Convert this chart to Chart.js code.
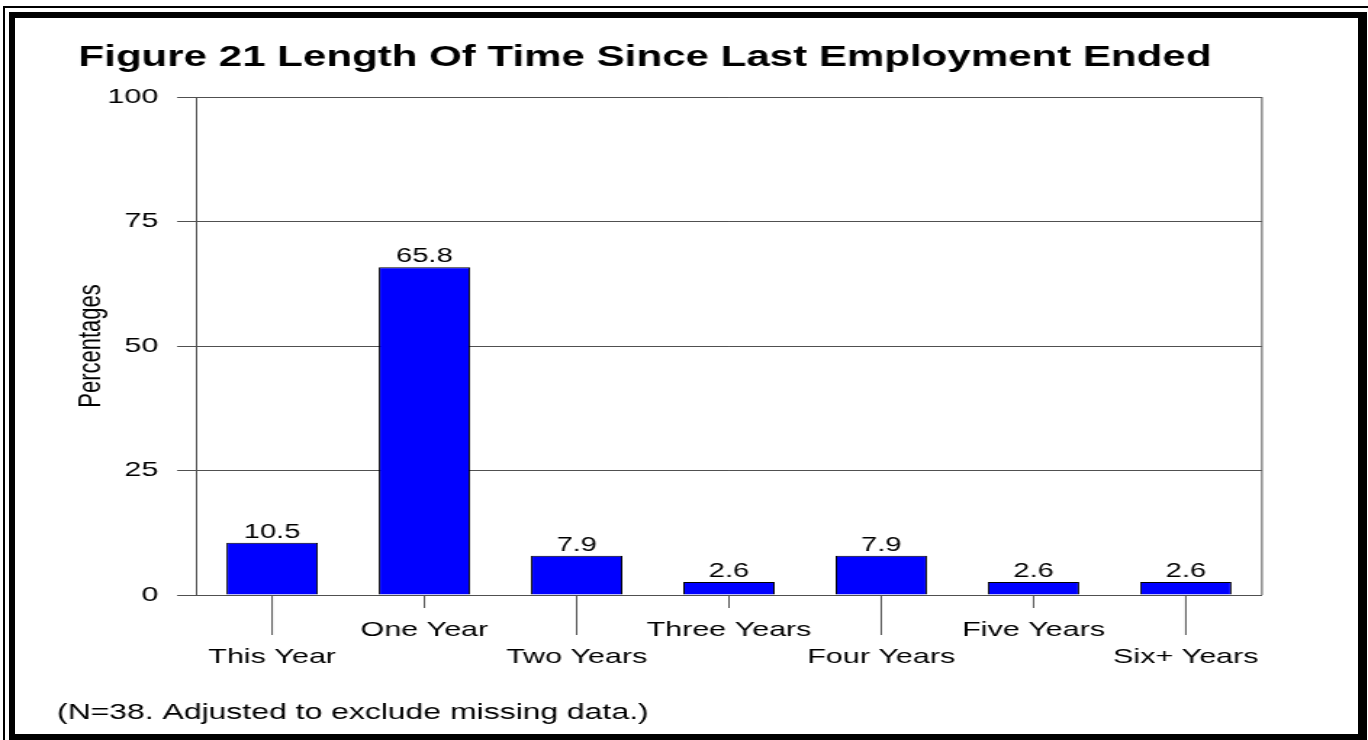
<!DOCTYPE html>
<html>
<head>
<meta charset="utf-8">
<script src="https://cdn.jsdelivr.net/npm/chart.js@4.4.1/dist/chart.umd.min.js"></script>
<style>
    html, body { margin: 0; padding: 0; background: #fff; overflow: hidden; }
    body { width: 1368px; height: 740px; position: relative; }
    #chart { position: absolute; left: 0; top: 0; }
    .frame-thin { position: absolute; left: 3px; top: 6px; width: 2000px; height: 2000px; border: 2px solid #000; }
    .frame-thick { position: absolute; left: 9px; top: 12px; width: 1358px; height: 728px; box-sizing: border-box;
                   border-style: solid; border-color: #000; border-width: 6px 9px 6px 6px; }
</style>
</head>
<body>
<canvas id="chart" width="943" height="740" style="width:1368px;height:740px"></canvas>
<div class="frame-thin"></div>
<div class="frame-thick"></div>
<script>
// the original picture is stretched sideways, so the canvas is drawn narrow and widened by css
const FONT = "'Liberation Sans', Arial, sans-serif";
const LINE = '#505050';

const titleText = 'Figure 21 Length Of Time Since Last Employment Ended';
const yTitle = 'Percentages';
const footnote = '(N=38. Adjusted to exclude missing data.)';
const categories = ['This Year', 'One Year', 'Two Years', 'Three Years', 'Four Years', 'Five Years', 'Six+ Years'];
const percentages = [10.5, 65.8, 7.9, 2.6, 7.9, 2.6, 2.6];
const yTicks = [0, 25, 50, 75, 100];

// labels alternate between two rows
const labels = categories.map((c, i) => i % 2 ? [c] : ['', c]);

const extras = {
    id: 'extras',
    afterDatasetsDraw(chart) {
        const ctx = chart.ctx;
        const meta = chart.getDatasetMeta(0);
        ctx.save();
        ctx.fillStyle = '#000';
        ctx.font = `20px ${FONT}`;
        ctx.textAlign = 'center';
        ctx.textBaseline = 'alphabetic';
        meta.data.forEach((bar, i) => {
            ctx.fillText(String(percentages[i]), bar.x, bar.y - 5);
        });
        ctx.restore();
    },
    afterDraw(chart) {
        const { ctx, chartArea } = chart;
        const x = chart.scales.x;
        ctx.save();
        ctx.strokeStyle = LINE;
        ctx.lineWidth = 1;
        ctx.beginPath();
        ctx.moveTo(chartArea.right, chartArea.top);
        ctx.lineTo(chartArea.right, chartArea.bottom);
        categories.forEach((c, i) => {
            const px = x.getPixelForValue(i);
            ctx.moveTo(px, chartArea.bottom);
            ctx.lineTo(px, chartArea.bottom + (i % 2 ? 13 : 40));
        });
        ctx.stroke();

        ctx.fillStyle = '#000';
        ctx.font = `22px ${FONT}`;
        ctx.textAlign = 'left';
        ctx.textBaseline = 'middle';
        ctx.fillText(footnote, 39.3, 712.5);
        ctx.restore();
    }
};

new Chart(document.getElementById('chart'), {
    type: 'bar',
    data: {
        labels: labels,
        datasets: [{
            data: percentages,
            backgroundColor: '#0000ff',
            borderColor: '#000',
            borderWidth: 1,
            barPercentage: 0.6,
            categoryPercentage: 1
        }]
    },
    options: {
        responsive: false,
        animation: false,
        devicePixelRatio: 1,
        layout: { padding: { left: 19.3, right: 73.1, top: 0, bottom: 40 } },
        plugins: {
            legend: { display: false },
            tooltip: { enabled: false },
            title: {
                display: true,
                text: titleText,
                color: '#000',
                font: { family: FONT, size: 29, weight: 'bold' },
                padding: { top: 40.6, bottom: 21.6 }
            }
        },
        scales: {
            x: {
                grid: { display: false, drawTicks: false },
                border: { color: LINE, width: 1 },
                ticks: {
                    color: '#000',
                    font: { family: FONT, size: 21, lineHeight: 1.32 },
                    padding: 21.1,
                    maxRotation: 0,
                    minRotation: 0,
                    autoSkip: false
                },
                afterFit(scale) { scale.height = 105; }
            },
            y: {
                min: 0,
                max: 100,
                afterBuildTicks(scale) { scale.ticks = yTicks.map(v => ({ value: v })); },
                grid: { color: LINE, tickColor: LINE, tickLength: 13 },
                border: { color: LINE, width: 1 },
                ticks: { color: '#000', font: { family: FONT, size: 21 }, padding: 13 },
                title: {
                    display: true,
                    text: yTitle,
                    color: '#000',
                    font: { family: FONT, size: 22 },
                    padding: { top: 30.2, bottom: 0 }
                },
                afterFit(scale) { scale.width = 115.8; }
            }
        }
    },
    plugins: [extras]
});
</script>
</body>
</html>
